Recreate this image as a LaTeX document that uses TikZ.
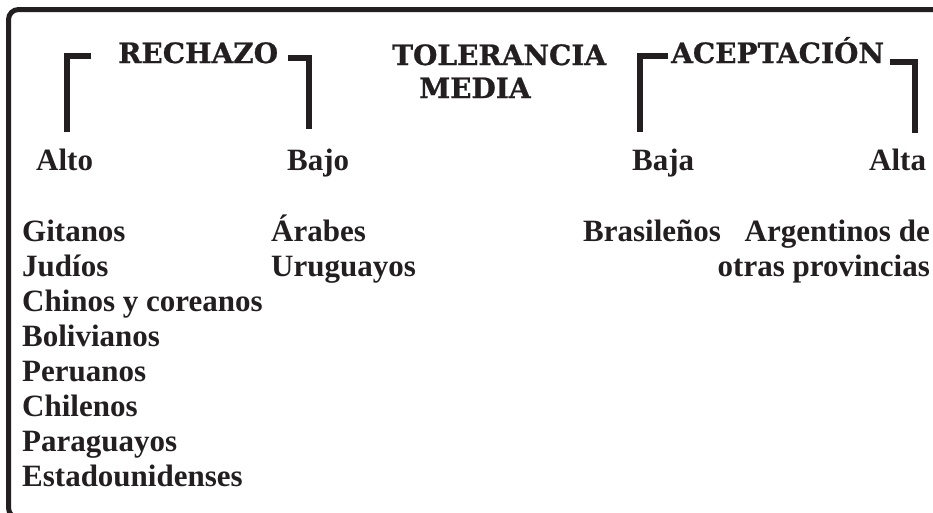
\documentclass[tikz,border=0pt]{standalone}
\usepackage{fontspec}
\setmainfont{Liberation Serif}
\newfontfamily\headfont[BoldFeatures={FakeBold=0.8}]{DejaVu Serif}
\definecolor{ink}{RGB}{35,31,32}
\begin{document}
\begin{tikzpicture}[x=1pt,y=-1pt,
  every node/.style={inner sep=0pt,text=ink},
  head/.style={font=\headfont\bfseries\fontsize{28}{30}\selectfont,anchor=base west},
  item/.style={font=\bfseries\fontsize{31}{35}\selectfont,anchor=base west},
  itemr/.style={font=\bfseries\fontsize{31}{35}\selectfont,anchor=base east},
  level/.style={font=\bfseries\fontsize{31}{35}\selectfont,anchor=base west},
  bracket/.style={draw=ink,line width=6pt,line cap=butt,line join=miter},
  frame/.style={draw=ink,line width=5pt,rounded corners=10pt}]
\useasboundingbox (0,0) rectangle (933,512);
\begin{scope}
\clip (0,0) rectangle (933,512);
\draw[frame] (8.5,9.5) rectangle (960,518);
\end{scope}
% headings
\node[head] (rechazo) at (118,63) {RECHAZO};
\node[head] (tolerancia) at (392,65) {TOLERANCIA};
\node[head] (media) at (419,98) {MEDIA};
\node[head] (aceptacion) at (671,63) {ACEPTACIÓN};
% brackets
\draw[bracket] (91,56) -- (67,56) -- (67,132);
\draw[bracket] (288,57.5) -- (308.5,57.5) -- (308.5,129);
\draw[bracket] (668,56) -- (640,56) -- (640,132);
\draw[bracket] (890,62) -- (915,62) -- (915,133);
% levels
\node[level] (alto) at (36,170) {Alto};
\node[level] (bajo) at (287,170) {Bajo};
\node[level] (baja) at (632,170) {Baja};
\node[level] (alta) at (869,170) {Alta};
% column 1
\node[item] (c1a) at (22,241) {Gitanos};
\node[item] (c1b) at (22,276) {Judíos};
\node[item] (c1c) at (22,311) {Chinos y coreanos};
\node[item] (c1d) at (22,346) {Bolivianos};
\node[item] (c1e) at (22,381) {Peruanos};
\node[item] (c1f) at (22,416) {Chilenos};
\node[item] (c1g) at (22,451) {Paraguayos};
\node[item] (c1h) at (22,486) {Estadounidenses};
% column 2
\node[item] (c2a) at (271,241) {Árabes};
\node[item] (c2b) at (271,276) {Uruguayos};
% column 3
\node[item] (c3a) at (583,241) {Brasileños};
% column 4
\node[itemr] (c4a) at (930,241) {Argentinos de};
\node[itemr] (c4b) at (930,276) {otras provincias};
\end{tikzpicture}
\end{document}
